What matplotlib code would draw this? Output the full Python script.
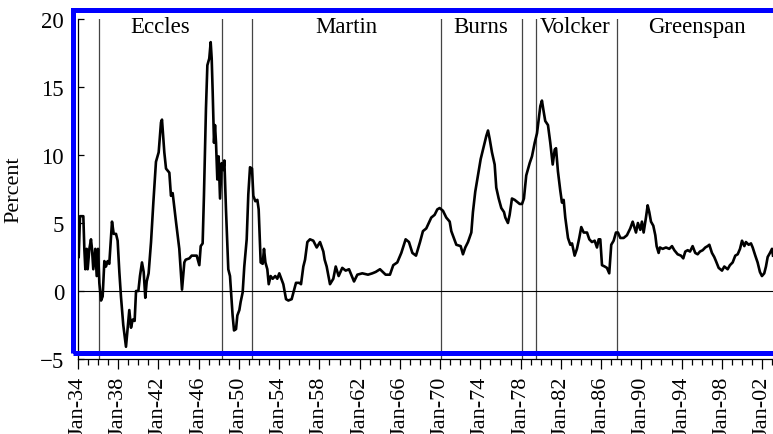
import matplotlib
matplotlib.use('Agg')
import matplotlib.pyplot as plt
from matplotlib.patches import Rectangle

plt.rcParams['font.family'] = ['Liberation Serif', 'DejaVu Serif']

# annual CPI inflation (decimal year, percent)
year = [
    1934.07, 1934.2, 1934.53, 1934.63, 1934.73, 1934.86, 1934.96, 1935.13, 1935.29, 1935.39,
    1935.52, 1935.72, 1935.86, 1935.99, 1936.12, 1936.29, 1936.45, 1936.62, 1936.78, 1936.95,
    1937.11, 1937.38, 1937.55, 1937.78, 1937.94, 1938.11, 1938.27, 1938.5, 1938.77, 1938.94,
    1939.1, 1939.27, 1939.44, 1939.63, 1939.77, 1940.0, 1940.16, 1940.36, 1940.53, 1940.69,
    1940.83, 1941.02, 1941.26, 1941.49, 1941.75, 1942.02, 1942.25, 1942.35, 1942.58, 1942.75,
    1943.08, 1943.24, 1943.41, 1943.74, 1944.07, 1944.34, 1944.57, 1944.7, 1945.07, 1945.3,
    1945.8, 1946.06, 1946.2, 1946.39, 1946.52, 1946.72, 1946.86, 1947.05, 1947.19, 1947.29,
    1947.39, 1947.52, 1947.62, 1947.72, 1947.85, 1947.98, 1948.12, 1948.28, 1948.45, 1948.55,
    1948.71, 1948.94, 1949.11, 1949.37, 1949.51, 1949.71, 1949.84, 1950.04, 1950.17, 1950.37,
    1950.53, 1950.77, 1950.93, 1951.1, 1951.3, 1951.43, 1951.63, 1951.83, 1951.96, 1952.16,
    1952.36, 1952.49, 1952.63, 1952.82, 1952.96, 1953.15, 1953.35, 1953.61, 1953.81, 1954.01,
    1954.21, 1954.41, 1954.68, 1954.91, 1955.24, 1955.47, 1955.67, 1956.0, 1956.17, 1956.4,
    1956.57, 1956.8, 1957.06, 1957.39, 1957.73, 1958.06, 1958.39, 1958.52, 1958.72, 1959.05,
    1959.38, 1959.62, 1959.91, 1960.27, 1960.61, 1960.94, 1961.44, 1961.77, 1962.26, 1962.83,
    1963.26, 1963.59, 1964.02, 1964.58, 1965.01, 1965.34, 1965.74, 1966.14, 1966.57, 1966.9,
    1967.24, 1967.6, 1968.0, 1968.29, 1968.62, 1969.12, 1969.45, 1969.72, 1969.95, 1970.28,
    1970.61, 1970.95, 1971.11, 1971.61, 1972.04, 1972.27, 1972.5, 1972.77, 1973.1, 1973.26,
    1973.49, 1973.76, 1974.03, 1974.26, 1974.43, 1974.59, 1974.76, 1974.92, 1975.15, 1975.42,
    1975.58, 1975.82, 1976.08, 1976.35, 1976.48, 1976.74, 1976.91, 1977.14, 1977.41, 1977.91,
    1978.14, 1978.33, 1978.56, 1978.9, 1979.13, 1979.4, 1979.63, 1979.8, 1979.96, 1980.12,
    1980.29, 1980.45, 1980.72, 1980.95, 1981.19, 1981.39, 1981.52, 1981.71, 1981.94, 1982.11,
    1982.28, 1982.44, 1982.71, 1982.94, 1983.11, 1983.37, 1983.6, 1983.83, 1984.03, 1984.27,
    1984.6, 1984.83, 1985.09, 1985.36, 1985.59, 1985.76, 1985.92, 1986.09, 1986.36, 1986.58,
    1986.81, 1987.01, 1987.25, 1987.48, 1987.68, 1987.91, 1988.24, 1988.57, 1988.9, 1989.14,
    1989.34, 1989.47, 1989.66, 1989.9, 1990.06, 1990.23, 1990.46, 1990.63, 1990.79, 1990.96,
    1991.19, 1991.39, 1991.52, 1991.72, 1991.85, 1992.12, 1992.45, 1992.78, 1993.05, 1993.28,
    1993.61, 1993.94, 1994.17, 1994.37, 1994.61, 1994.84, 1995.1, 1995.36, 1995.6, 1995.83,
    1996.1, 1996.36, 1996.59, 1996.76, 1997.02, 1997.25, 1997.42, 1997.69, 1998.02, 1998.25,
    1998.58, 1998.81, 1999.08, 1999.34, 1999.58, 1999.81, 2000.01, 2000.24, 2000.4, 2000.67,
    2000.9, 2001.07, 2001.33, 2001.56, 2001.79, 2001.99, 2002.22, 2002.39, 2002.56, 2002.79,
    2002.99, 2003.09,
]
inflation = [
    2.5, 5.5, 5.5, 3.1, 1.6, 3.1, 1.6, 3.1, 3.8, 3.1,
    1.6, 3.1, 1.1, 3.1, 0.6, -0.7, -0.4, 2.2, 1.8, 2.2,
    2.0, 5.1, 4.2, 4.2, 3.7, 1.4, -0.4, -2.5, -4.1, -2.7,
    -1.4, -2.7, -2.1, -2.2, 0.0, 0.0, 1.1, 2.1, 1.4, -0.5,
    0.7, 1.3, 3.6, 6.5, 9.5, 10.2, 12.4, 12.6, 10.2, 9.0,
    8.7, 7.0, 7.2, 5.1, 3.1, 0.1, 2.1, 2.3, 2.4, 2.6,
    2.6, 1.9, 3.3, 3.5, 7.0, 13.4, 16.6, 17.1, 18.3, 17.1,
    14.6, 10.9, 12.2, 10.9, 8.2, 9.9, 6.8, 9.4, 8.9, 9.6,
    6.0, 1.6, 1.1, -1.8, -2.9, -2.8, -1.8, -1.4, -0.8, -0.1,
    1.8, 3.8, 7.1, 9.1, 9.0, 7.0, 6.6, 6.7, 6.0, 2.1,
    2.0, 3.1, 2.1, 1.6, 0.5, 1.1, 0.9, 1.1, 0.9, 1.3,
    0.9, 0.5, -0.6, -0.7, -0.6, 0.05, 0.6, 0.6, 0.5, 1.8,
    2.3, 3.6, 3.8, 3.7, 3.2, 3.6, 2.9, 2.3, 1.8, 0.5,
    0.9, 1.8, 1.1, 1.7, 1.5, 1.6, 0.7, 1.2, 1.3, 1.2,
    1.3, 1.4, 1.6, 1.2, 1.2, 1.9, 2.1, 2.8, 3.8, 3.6,
    2.8, 2.6, 3.6, 4.4, 4.6, 5.4, 5.6, 6.0, 6.1, 5.9,
    5.4, 5.1, 4.4, 3.4, 3.3, 2.7, 3.2, 3.6, 4.3, 5.8,
    7.3, 8.5, 9.7, 10.4, 10.9, 11.4, 11.8, 11.2, 10.2, 9.3,
    7.6, 6.8, 6.1, 5.8, 5.4, 5.0, 5.6, 6.8, 6.7, 6.4,
    6.4, 6.8, 8.5, 9.4, 9.9, 10.9, 11.6, 12.6, 13.6, 14.0,
    13.2, 12.5, 12.2, 10.9, 9.3, 10.4, 10.5, 8.8, 7.4, 6.5,
    6.7, 5.4, 3.9, 3.4, 3.5, 2.6, 3.1, 3.9, 4.7, 4.3,
    4.3, 3.8, 3.6, 3.7, 3.2, 3.8, 3.8, 1.9, 1.8, 1.7,
    1.3, 3.4, 3.7, 4.3, 4.3, 3.9, 3.9, 4.1, 4.6, 5.1,
    4.6, 4.3, 5.0, 4.5, 5.1, 4.3, 5.4, 6.3, 5.8, 5.1,
    4.8, 4.1, 3.3, 2.8, 3.2, 3.1, 3.2, 3.1, 3.3, 3.0,
    2.7, 2.6, 2.4, 2.9, 3.0, 2.9, 3.3, 2.8, 2.7, 2.9,
    3.0, 3.2, 3.3, 3.4, 2.8, 2.5, 2.2, 1.7, 1.5, 1.8,
    1.6, 1.9, 2.1, 2.6, 2.7, 3.1, 3.7, 3.3, 3.6, 3.4,
    3.5, 3.2, 2.6, 2.1, 1.4, 1.1, 1.3, 1.8, 2.5, 2.8,
    3.1, 2.6,
]

# Fed chair changes and labels
chair_lines = [1936.1, 1948.3, 1951.25, 1970.08, 1978.15, 1979.55, 1987.55]
chair_names = ['Eccles', 'Martin', 'Burns', 'Volcker', 'Greenspan']
chair_label_x = [1942.15, 1960.65, 1974.05, 1983.45, 1995.5]

major_years = list(range(1934, 2003, 4))
major_labels = ['Jan-%02d' % (y % 100) for y in major_years]
minor_years = list(range(1934, 2004))

fig = plt.figure(figsize=(7.73, 4.35), dpi=100)
ax = fig.add_axes([78 / 773, 75 / 435, 695 / 773, 340 / 435])

for x in chair_lines:
    ax.axvline(x, color='#444444', lw=0.9, zorder=1)
ax.axhline(0, color='black', lw=0.8, zorder=1)
ax.plot(year, inflation, color='black', lw=1.9, zorder=3)

for name, x in zip(chair_names, chair_label_x):
    ax.text(x, 19.45, name, ha='center', va='center', fontsize=16.5)

ax.set_xlim(1934, 2003.09)
ax.set_ylim(-5, 20)
ax.set_yticks([-5, 0, 5, 10, 15, 20])
ax.set_xticks(major_years)
ax.set_xticklabels(major_labels, rotation=90)
ax.set_xticks(minor_years, minor=True)
ax.tick_params(axis='x', which='major', direction='out', length=7, width=0.9, labelsize=16, pad=5)
ax.tick_params(axis='x', which='minor', direction='out', length=4, width=0.9)
ax.tick_params(axis='y', direction='in', length=4, width=0.9, labelsize=16.5, pad=10)
ax.spines['top'].set_visible(False)
ax.spines['right'].set_visible(False)
ax.spines['left'].set_linewidth(0.9)
ax.spines['bottom'].set_linewidth(0.9)
ax.set_ylabel('Percent', fontsize=16)
ax.yaxis.set_label_coords(-0.078, 0.5)

# blue highlight frame
frame = Rectangle((72.5 / 773, 81 / 435), 1.0, (354 - 11) / 435, fill=False,
                  edgecolor='#0000ff', lw=3.6, transform=fig.transFigure, zorder=10)
fig.add_artist(frame)

fig.savefig('out.png', dpi=100)
